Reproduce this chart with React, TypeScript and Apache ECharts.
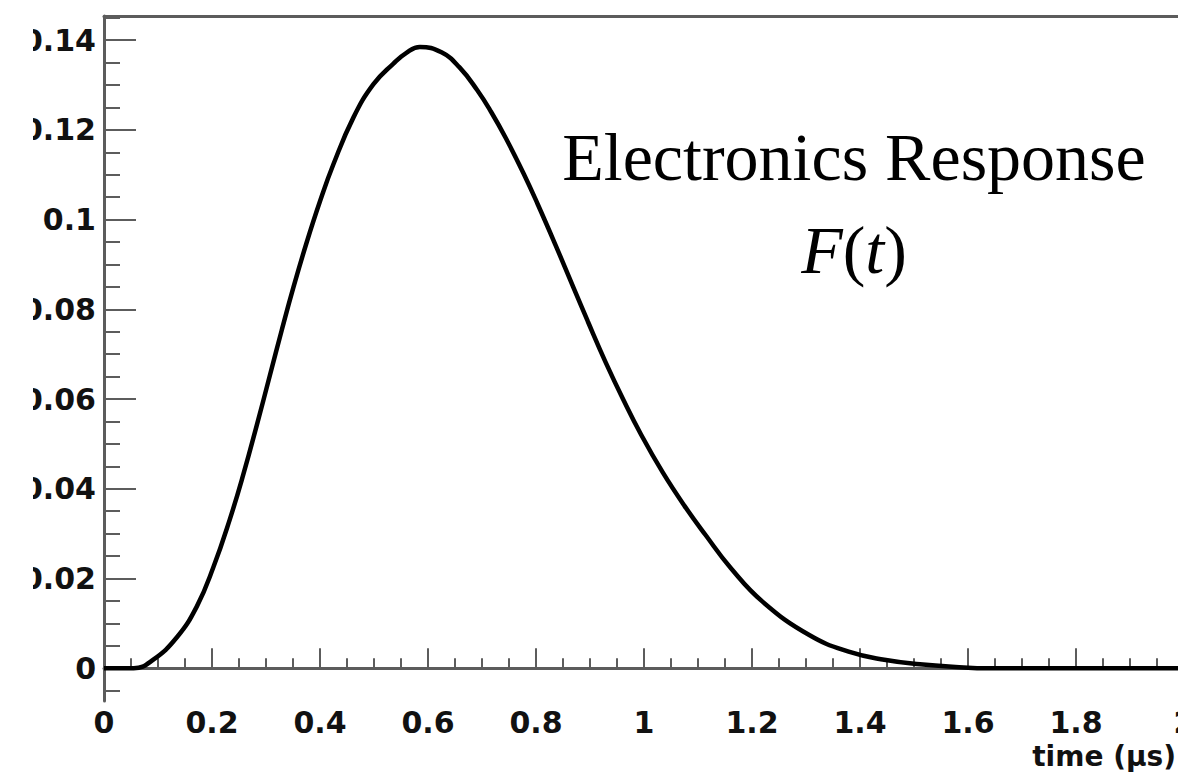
import React, { useEffect, useRef } from "react";
import * as echarts from "echarts";

// ---- data ----
const timeUs = [
  0, 0.03, 0.055, 0.09, 0.135, 0.172, 0.2025, 0.233, 0.258, 0.283, 0.307, 0.329,
  0.351, 0.375, 0.4, 0.425, 0.462, 0.499, 0.536, 0.56, 0.585, 0.625, 0.658,
  0.691, 0.717, 0.744, 0.777, 0.803, 0.836, 0.87, 0.896, 0.929, 0.962, 0.995,
  1.035, 1.075, 1.114, 1.161, 1.22, 1.306, 1.379, 1.445, 1.511, 1.577, 1.64,
  1.8, 2.0,
];
const response = [
  0, 0, 0, 0.0018, 0.0069, 0.0138, 0.0225, 0.0332, 0.0432, 0.0542, 0.0652,
  0.0753, 0.085, 0.0948, 0.1041, 0.1124, 0.1228, 0.1302, 0.1348, 0.1372,
  0.1385, 0.1373, 0.134, 0.1289, 0.124, 0.1182, 0.1103, 0.1035, 0.0944,
  0.0847, 0.0773, 0.0682, 0.0598, 0.052, 0.0436, 0.0362, 0.0297, 0.0223,
  0.0148, 0.0074, 0.0037, 0.0019, 0.0009, 0.0003, 0, 0, 0,
];

const xMajorTicks = [0, 0.2, 0.4, 0.6, 0.8, 1, 1.2, 1.4, 1.6, 1.8, 2];
const xMinorTicks = [
  0.05, 0.1, 0.15, 0.25, 0.3, 0.35, 0.45, 0.5, 0.55, 0.65, 0.7, 0.75, 0.85, 0.9,
  0.95, 1.05, 1.1, 1.15, 1.25, 1.3, 1.35, 1.45, 1.5, 1.55, 1.65, 1.7, 1.75,
  1.85, 1.9, 1.95,
];
const yMajorTicks = [0, 0.02, 0.04, 0.06, 0.08, 0.1, 0.12, 0.14];
const yMinorTicks = [
  -0.005, 0.005, 0.01, 0.015, 0.025, 0.03, 0.035, 0.045, 0.05, 0.055, 0.065,
  0.07, 0.075, 0.085, 0.09, 0.095, 0.105, 0.11, 0.115, 0.125, 0.13, 0.135,
  0.145,
];
const xRange = [0, 2];
const yRange = [-0.0073, 0.1454];

const titleText = "Electronics Response";
const formulaText = "{i|F}({i|t})";
const xAxisTitle = "time (\u03bcs)";

const AXIS_COLOR = "#5c5c5c";
const LABEL_FONT = "DejaVu Sans";
const SERIF = "Liberation Serif";

export default function App() {
  const ref = useRef<HTMLDivElement>(null);

  useEffect(() => {
    if (!ref.current) return;
    const chart = echarts.init(ref.current, undefined, { renderer: "svg" });

    const labelStyle = {
      fontFamily: LABEL_FONT,
      fontWeight: "bold" as const,
      fontSize: 30,
      color: "#111",
    };

    const option: any = {
      animation: false,
      backgroundColor: "#ffffff",
      grid: {
        left: 104,
        top: 16,
        width: 1080,
        height: 685,
        containLabel: false,
        outerBoundsMode: "none",
      },
      xAxis: [
        {
          type: "value",
          position: "bottom",
          min: xRange[0],
          max: xRange[1],
          axisLine: { show: true, lineStyle: { color: AXIS_COLOR, width: 3 } },
          axisTick: {
            show: true,
            inside: true,
            length: 20,
            customValues: xMajorTicks,
            lineStyle: { color: AXIS_COLOR, width: 2 },
          },
          axisLabel: { show: true, customValues: xMajorTicks, margin: 6, ...labelStyle },
          splitLine: { show: false },
        },
        {
          type: "value",
          position: "bottom",
          min: xRange[0],
          max: xRange[1],
          axisLine: { show: false },
          axisTick: {
            show: true,
            inside: true,
            length: 10,
            customValues: xMinorTicks,
            lineStyle: { color: AXIS_COLOR, width: 2 },
          },
          axisLabel: { show: false },
          splitLine: { show: false },
        },
        {
          type: "value",
          position: "top",
          min: xRange[0],
          max: xRange[1],
          axisLine: { show: true, lineStyle: { color: AXIS_COLOR, width: 3 } },
          axisTick: { show: false },
          axisLabel: { show: false },
          splitLine: { show: false },
        },
      ],
      yAxis: [
        {
          type: "value",
          position: "left",
          min: yRange[0],
          max: yRange[1],
          axisLine: { show: true, lineStyle: { color: AXIS_COLOR, width: 3 } },
          axisTick: {
            show: true,
            inside: true,
            length: 32,
            customValues: yMajorTicks,
            lineStyle: { color: AXIS_COLOR, width: 2 },
          },
          axisLabel: { show: true, customValues: yMajorTicks, margin: 8, ...labelStyle },
          splitLine: { show: false },
        },
        {
          type: "value",
          position: "left",
          min: yRange[0],
          max: yRange[1],
          axisLine: { show: false },
          axisTick: {
            show: true,
            inside: true,
            length: 16,
            customValues: yMinorTicks,
            lineStyle: { color: AXIS_COLOR, width: 2 },
          },
          axisLabel: { show: false },
          splitLine: { show: false },
        },
      ],
      series: [
        {
          type: "line",
          xAxisIndex: 0,
          yAxisIndex: 0,
          data: timeUs.map((t, i) => [t, response[i]]),
          showSymbol: false,
          smooth: 0.45,
          lineStyle: { color: "#000", width: 4.5 },
          z: 5,
        },
      ],
      graphic: [
        {
          type: "rect",
          z: 100,
          shape: { x: 0, y: 0, width: 33, height: 690 },
          style: { fill: "#ffffff" },
        },
        {
          type: "text",
          x: 854,
          y: 157,
          z: 50,
          style: {
            text: titleText,
            fontFamily: SERIF,
            fontSize: 68,
            align: "center",
            verticalAlign: "middle",
            fill: "#000",
          },
        },
        {
          type: "text",
          x: 854,
          y: 250,
          z: 50,
          style: {
            text: formulaText,
            fontFamily: SERIF,
            fontSize: 68,
            align: "center",
            verticalAlign: "middle",
            fill: "#000",
            rich: {
              i: { fontFamily: SERIF, fontSize: 68, fontStyle: "italic", fill: "#000" },
            },
          },
        },
        {
          type: "text",
          x: 1176,
          y: 756,
          z: 50,
          style: {
            text: xAxisTitle,
            fontFamily: LABEL_FONT,
            fontWeight: "bold",
            fontSize: 28,
            align: "right",
            verticalAlign: "middle",
            fill: "#111",
          },
        },
      ],
    };

    chart.setOption(option);
    return () => chart.dispose();
  }, []);

  return (
    <div
      ref={ref}
      style={{ position: "absolute", left: 0, top: 0, width: 1178, height: 773, background: "#fff" }}
    />
  );
}
